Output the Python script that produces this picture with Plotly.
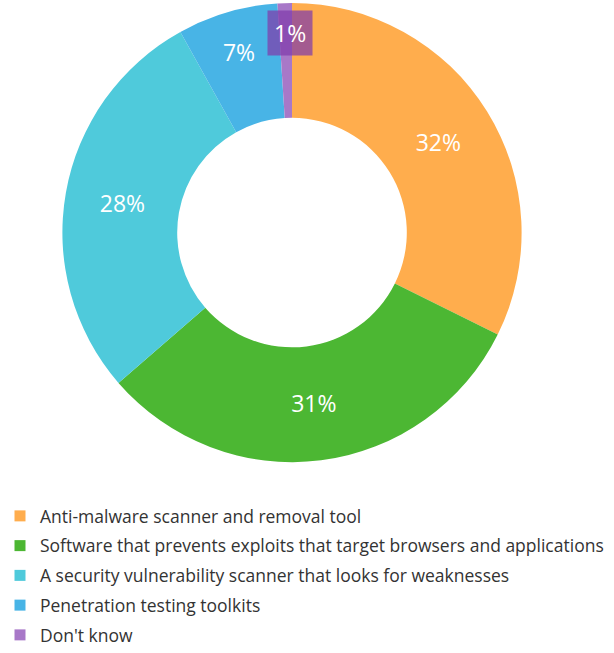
import math
import plotly.graph_objects as go

labels = [
    "Anti-malware scanner and removal tool",
    "Software that prevents exploits that target browsers and applications",
    "A security vulnerability scanner that looks for weaknesses",
    "Penetration testing toolkits",
    "Don't know",
]
values = [32, 31, 28, 7, 1]
colors = ["#FFAD4D", "#4CB733", "#4FCADB", "#48B4E6", "#A878C8"]

W, H = 614, 653
cx, cy, R = 292, 238, 235  # pixel geometry of the donut domain

texts = [f"{v}%" for v in values]
texts[-1] = ""  # small slice label drawn as a boxed annotation

fig = go.Figure(go.Pie(
    labels=labels,
    values=values,
    marker=dict(colors=colors, line=dict(width=0)),
    hole=0.5,
    sort=False,
    direction="clockwise",
    rotation=0,
    text=texts,
    textinfo="text",
    textposition="inside",
    insidetextorientation="horizontal",
    textfont=dict(family="Open Sans", size=23, color="white"),
    domain=dict(x=[(cx - R) / W, (cx + R) / W], y=[max(0, 1 - (cy + R) / H), min(1, 1 - (cy - R) / H)]),
    hoverinfo="label+percent",
    showlegend=False,
))

# legend entries (one group each so spacing can be set)
for lab, col in zip(labels, colors):
    fig.add_trace(go.Scatter(
        x=[None], y=[None], mode="markers", name=lab, legendgroup=lab,
        marker=dict(symbol="square", size=11, color=col),
        hoverinfo="skip",
    ))

# boxed label for the tiny slice
total = sum(values)
mid = (sum(values[:-1]) + values[-1] / 2) / total * 2 * math.pi
r = 0.87 * R
ax = cx + 4 + r * math.sin(mid)
ay = cy - r * math.cos(mid)
fig.add_annotation(
    x=ax / W, y=1 - ay / H, xref="paper", yref="paper",
    xanchor="center", yanchor="middle",
    text=f"{values[-1]}%", showarrow=False,
    font=dict(family="Open Sans", size=23, color="white"),
    bgcolor="rgba(128,60,170,0.72)", borderpad=6,
)

fig.update_layout(
    width=W, height=H,
    margin=dict(l=0, r=0, t=0, b=0),
    paper_bgcolor="white",
    plot_bgcolor="white",
    showlegend=True,
    xaxis=dict(visible=False),
    yaxis=dict(visible=False),
    legend=dict(
        orientation="v", x=0, xanchor="left", y=1 - 510 / H, yanchor="top",
        font=dict(family="Open Sans", size=17.5, color="#333333"),
        itemwidth=30, tracegroupgap=4, traceorder="grouped",
        itemclick=False, itemdoubleclick=False,
    ),
)

fig.write_html("out.html", config={"displayModeBar": False},
               post_script="document.body.style.margin='0';")
